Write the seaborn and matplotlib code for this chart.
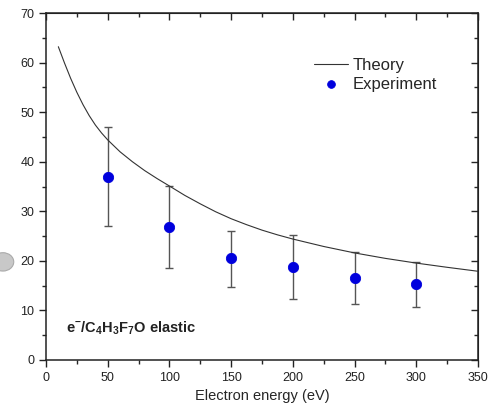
import numpy as np
import pandas as pd
import matplotlib
matplotlib.use("Agg")
import matplotlib.pyplot as plt
import seaborn as sns
from matplotlib.ticker import MultipleLocator
from matplotlib.patches import Circle

# theory curve
theory_e = [10, 15, 20, 25, 30, 35, 40, 45, 50, 60, 70, 80, 90, 100, 112.5, 125,
            137.5, 150, 162.5, 175, 187.5, 200, 225, 250, 275, 300, 325, 350]
theory_cs = [63.2, 59.9, 56.8, 54.0, 51.5, 49.3, 47.4, 45.8, 44.4, 42.0, 40.0,
             38.2, 36.6, 35.1, 33.2, 31.5, 29.9, 28.5, 27.3, 26.2, 25.25, 24.4,
             22.9, 21.6, 20.5, 19.55, 18.7, 17.9]

# experiment
exp_e = [50, 100, 150, 200, 250, 300]
exp_cs = [37.0, 26.8, 20.5, 18.8, 16.6, 15.3]
exp_lo = [27.0, 18.6, 14.8, 12.4, 11.3, 10.7]
exp_hi = [47.0, 35.2, 26.1, 25.2, 21.7, 19.8]

sns.set_style("ticks")
plt.rcParams['font.family'] = ['Liberation Sans', 'DejaVu Sans']
plt.rcParams['mathtext.fontset'] = 'custom'
plt.rcParams['mathtext.rm'] = 'Liberation Sans'
plt.rcParams['mathtext.bf'] = 'Liberation Sans:bold'

df_t = pd.DataFrame({'E': theory_e, 'cs': theory_cs})
df_x = pd.DataFrame({'E': exp_e, 'cs': exp_cs, 'lo': exp_lo, 'hi': exp_hi})

fig = plt.figure(figsize=(4.91, 4.17), dpi=100)
ax = fig.add_axes([0.0937, 0.1367, 0.8798, 0.8321])

yerr = [df_x['cs'] - df_x['lo'], df_x['hi'] - df_x['cs']]
ax.errorbar(df_x['E'], df_x['cs'], yerr=yerr, fmt='none', ecolor='#555555',
            elinewidth=1, capsize=3, capthick=1, zorder=2)
sns.lineplot(data=df_t, x='E', y='cs', color='#333333', linewidth=0.8,
             label='Theory', ax=ax, zorder=3)
sns.scatterplot(data=df_x, x='E', y='cs', color='#0000dd', s=55,
                edgecolor='#0000dd', label='Experiment', ax=ax, zorder=4)

ax.set_xlim(0, 350)
ax.set_ylim(0, 70)
ax.xaxis.set_major_locator(MultipleLocator(50))
ax.xaxis.set_minor_locator(MultipleLocator(25))
ax.yaxis.set_major_locator(MultipleLocator(10))
ax.yaxis.set_minor_locator(MultipleLocator(5))
ax.tick_params(which='major', direction='out', length=5, width=1, labelsize=9, colors='#222222')
ax.tick_params(which='minor', direction='out', length=3, width=1)
for s in ax.spines.values():
    s.set_linewidth(1.1)
    s.set_color('#222222')
    s.set_visible(True)

# mirrored ticks top / right pointing inward
top = ax.secondary_xaxis('top')
top.xaxis.set_major_locator(MultipleLocator(50))
top.xaxis.set_minor_locator(MultipleLocator(25))
top.tick_params(which='major', direction='in', length=5, width=1, labeltop=False)
top.tick_params(which='minor', direction='in', length=3, width=1)
right = ax.secondary_yaxis('right')
right.yaxis.set_major_locator(MultipleLocator(10))
right.yaxis.set_minor_locator(MultipleLocator(5))
right.tick_params(which='major', direction='in', length=5, width=1, labelright=False)
right.tick_params(which='minor', direction='in', length=3, width=1)

ax.set_xlabel('Electron energy (eV)', fontsize=10.5, labelpad=4)
ax.set_ylabel('')

leg = ax.legend(loc='upper right', bbox_to_anchor=(0.94, 0.915), frameon=False,
                fontsize=12, handlelength=2.0, handletextpad=0.3, labelspacing=0.25,
                markerscale=0.75)

ax.text(16.5, 5.6, r'e$^{\mathbf{-}}$/C$_{\mathbf{4}}$H$_{\mathbf{3}}$F$_{\mathbf{7}}$O elastic',
        fontsize=10.5, fontweight='bold', color='#222222')

# grey sphere decoration at the left edge
fig.patches.append(Circle((0.006, 0.372), 0.022, transform=fig.transFigure,
                          facecolor='#c8c8c8', edgecolor='#aaaaaa', linewidth=0.8))

fig.savefig('out.png', dpi=100)
